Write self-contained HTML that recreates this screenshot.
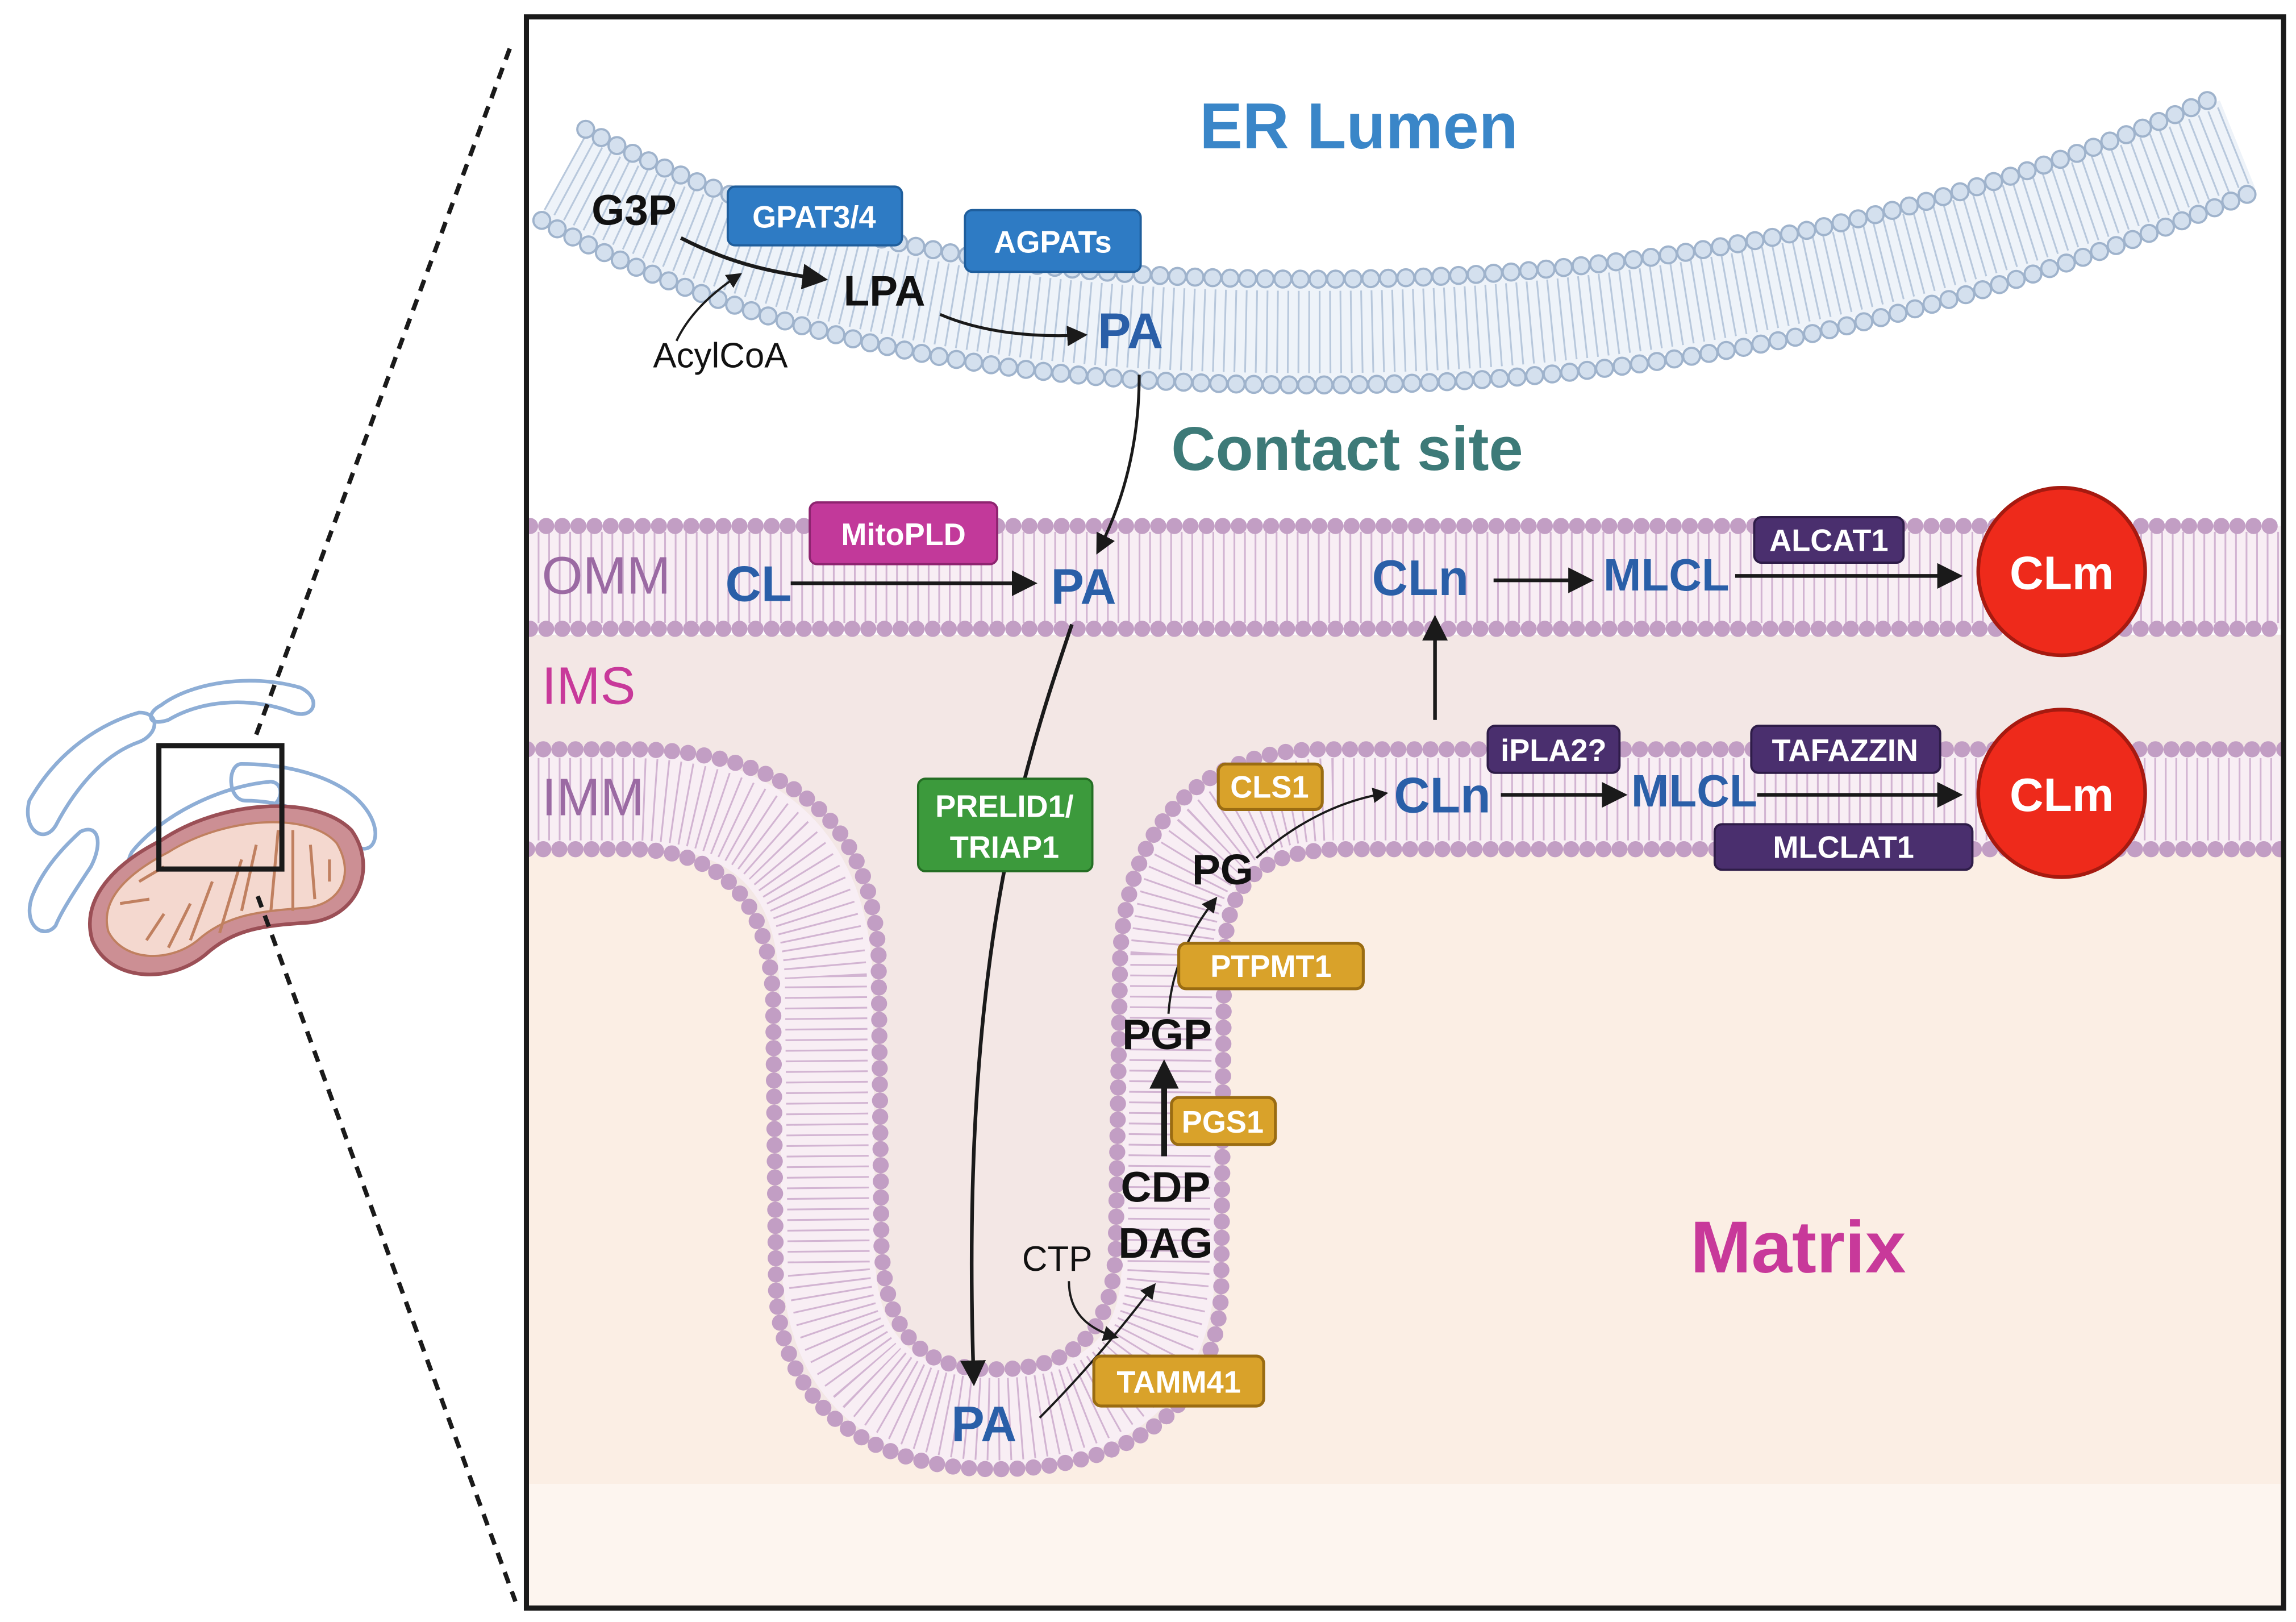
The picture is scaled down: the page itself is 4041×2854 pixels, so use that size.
<!DOCTYPE html>
<html><head><meta charset="utf-8"><style>
html,body{margin:0;padding:0;background:#fff;}
svg{display:block;}
text{font-family:"Liberation Sans",Arial,sans-serif;}
</style></head><body>
<svg width="4041" height="2854" viewBox="0 0 1568 1104" preserveAspectRatio="none" xmlns="http://www.w3.org/2000/svg">
<defs>
<marker id="ah" viewBox="0 0 10 10" refX="8" refY="5" markerWidth="5" markerHeight="5" orient="auto"><path d="M0,0 L10,5 L0,10 Z" fill="#1a1a1a"/></marker>
<marker id="ah2" viewBox="0 0 10 10" refX="8" refY="5" markerWidth="7" markerHeight="7" orient="auto"><path d="M0,0 L10,5 L0,10 Z" fill="#1a1a1a"/></marker>
<clipPath id="box"><rect x="360" y="12" width="1198" height="1081"/></clipPath>
</defs>
<rect width="1568" height="1104" fill="#fff"/>

<!-- left mitochondrion -->
<g fill="none" stroke="#8eaed6" stroke-width="2.5">
<path d="M110,480 C130,465 170,458 205,468 C220,475 215,490 200,485 C175,475 140,475 115,490 C100,495 100,485 110,480 Z"/>
<path d="M20,545 C40,510 70,492 95,485 C110,485 108,500 95,505 C75,512 55,530 38,562 C30,575 15,565 20,545 Z"/>
<path d="M90,580 C110,555 150,535 185,532 C195,533 193,548 182,550 C150,555 125,570 105,595 C95,605 82,595 90,580 Z"/>
<path d="M245,545 C230,530 200,520 165,520 C155,520 155,545 168,545 C200,545 225,560 242,575 C255,585 265,565 245,545 Z"/>
<path d="M22,610 C30,590 45,575 55,566 C68,560 70,575 62,590 C52,605 42,620 38,630 C30,640 15,630 22,610 Z"/>
</g>
<path d="M110,572 C150,545 215,540 240,565 C258,590 245,625 210,628 C180,630 160,632 140,650 C115,670 75,668 63,640 C55,612 78,588 110,572 Z" fill="#cc8f94" stroke="#9b4f56" stroke-width="2.5"/>
<path d="M115,580 C155,555 212,553 230,574 C243,596 232,616 208,618 C180,620 155,622 135,640 C115,656 84,654 74,634 C68,612 88,594 115,580 Z" fill="#f4d8cf" stroke="#c08060" stroke-width="1.5"/>
<g stroke="#c08060" stroke-width="2" fill="none">
<path d="M82,615 L102,612 M95,600 L112,590 M100,640 L112,622 M115,645 L130,615 M130,640 L145,600 M150,635 L165,585 M165,620 L175,575 M185,620 L190,565 M200,620 L200,565 M215,612 L212,575 M225,600 L225,585"/>
</g>
<rect x="108.5" y="507.5" width="84" height="84" fill="none" stroke="#1a1a1a" stroke-width="3.5"/>
<line x1="175" y1="500" x2="350" y2="28" stroke="#1a1a1a" stroke-width="3" stroke-dasharray="8 6"/>
<line x1="176" y1="610" x2="352" y2="1090" stroke="#1a1a1a" stroke-width="3" stroke-dasharray="8 6"/>

<!-- main box -->
<g clip-path="url(#box)">
<rect x="360" y="12" width="1198" height="1081" fill="#fff"/>
<rect x="360" y="432" width="1198" height="590" fill="#f3e7e5"/>
<path d="M360,578 L430,578 C490,578 525,610 528,680 L530,880 C536,970 610,1000 680,1000 C770,1000 830,960 834,880 L836,650 C838,600 860,578 920,578 L1560,578 L1560,1010 L360,1010 Z" fill="#fbeee4"/>
<rect x="360" y="1010" width="1198" height="85" fill="#fdf5ef"/>

<!-- ER membrane -->
<path d="M385,118 C560,215 750,226 900,226 C1150,226 1350,170 1528,98" fill="none" stroke="#eef3f9" stroke-width="64"/>
<path d="M385,118 C560,215 750,226 900,226 C1150,226 1350,170 1528,98" fill="none" stroke="#b8c8dc" stroke-width="56" stroke-dasharray="1.2 6"/>
<path d="M400,88 C570,180 750,190 900,190 C1150,190 1350,140 1515,65" fill="none" stroke="#9fb3cc" stroke-width="13" stroke-linecap="round" stroke-dasharray="0 12"/>
<path d="M400,88 C570,180 750,190 900,190 C1150,190 1350,140 1515,65" fill="none" stroke="#d4e0ee" stroke-width="10" stroke-linecap="round" stroke-dasharray="0 12"/>
<path d="M370,150 C550,250 750,262 900,262 C1150,262 1350,210 1540,130" fill="none" stroke="#9fb3cc" stroke-width="13" stroke-linecap="round" stroke-dasharray="0 12"/>
<path d="M370,150 C550,250 750,262 900,262 C1150,262 1350,210 1540,130" fill="none" stroke="#d4e0ee" stroke-width="10" stroke-linecap="round" stroke-dasharray="0 12"/>

<!-- OMM -->
<rect x="360" y="358" width="1200" height="70" fill="#f8eef4"/>
<line x1="360" y1="393" x2="1560" y2="393" stroke="#d2b4d2" stroke-width="62" stroke-dasharray="1.2 6"/>
<line x1="362" y1="358" x2="1560" y2="358" stroke="#c29ec4" stroke-width="11" stroke-linecap="round" stroke-dasharray="0 11"/>
<line x1="362" y1="428" x2="1560" y2="428" stroke="#c29ec4" stroke-width="11" stroke-linecap="round" stroke-dasharray="0 11"/>

<!-- IMM -->
<path d="M360,544 L430,544 C515,544 560,585 564,665 L566,865 C572,945 625,966 680,966 C750,966 795,935 798,865 L800,650 C804,580 840,545 910,544 L1560,544" fill="none" stroke="#f8eef4" stroke-width="64"/>
<path d="M360,544 L430,544 C515,544 560,585 564,665 L566,865 C572,945 625,966 680,966 C750,966 795,935 798,865 L800,650 C804,580 840,545 910,544 L1560,544" fill="none" stroke="#d2b4d2" stroke-width="56" stroke-dasharray="1.2 6"/>
<path d="M360,510 L430,510 C540,510 595,560 600,650 L602,850 C606,920 640,932 680,932 C730,932 760,910 762,850 L765,650 C770,560 820,512 900,510 L1560,510" fill="none" stroke="#c29ec4" stroke-width="11" stroke-linecap="round" stroke-dasharray="0 11"/>
<path d="M360,578 L430,578 C490,578 525,610 528,680 L530,880 C536,970 610,1000 680,1000 C770,1000 830,960 834,880 L836,650 C838,600 860,578 920,578 L1560,578" fill="none" stroke="#c29ec4" stroke-width="11" stroke-linecap="round" stroke-dasharray="0 11"/>
</g>
<rect x="359.5" y="11.5" width="1200" height="1083" fill="none" stroke="#1a1a1a" stroke-width="3.5"/>

<!-- region labels -->
<text x="928" y="101" font-size="44" font-weight="bold" fill="#3a86c8" text-anchor="middle">ER Lumen</text>
<text x="920" y="320" font-size="42" font-weight="bold" fill="#3d7a78" text-anchor="middle">Contact site</text>
<text x="370" y="404" font-size="36" fill="#9b6aa3">OMM</text>
<text x="370" y="479" font-size="36" fill="#c8399a">IMS</text>
<text x="370" y="555" font-size="36" fill="#9b6aa3">IMM</text>
<text x="1228" y="866" font-size="50" font-weight="bold" fill="#c8399a" text-anchor="middle">Matrix</text>

<!-- arrows -->
<g fill="none" stroke="#1a1a1a" stroke-width="2.5">
<path d="M465,162 C500,180 530,186 562,190" marker-end="url(#ah2)"/>
<path d="M462,232 C470,215 485,200 505,187" stroke-width="1.5" marker-end="url(#ah2)"/>
<path d="M642,214 C670,226 705,230 740,228" stroke-width="2" marker-end="url(#ah2)"/>
<path d="M778,255 C778,300 768,340 750,375" stroke-width="2" marker-end="url(#ah2)"/>
<path d="M540,397 L705,397" marker-end="url(#ah2)"/>
<path d="M732,425 C700,520 655,650 665,940" marker-end="url(#ah2)"/>
<path d="M1020,395 L1085,395" marker-end="url(#ah2)"/>
<path d="M1185,392 L1337,392" marker-end="url(#ah2)"/>
<path d="M980,490 L980,422" marker-end="url(#ah2)"/>
<path d="M1025,541 L1108,541" marker-end="url(#ah2)"/>
<path d="M1200,541 L1337,541" marker-end="url(#ah2)"/>
<path d="M858,584 C885,560 915,545 946,540" stroke-width="1.5" marker-end="url(#ah2)"/>
<path d="M798,690 C800,660 812,635 830,612" stroke-width="1.5" marker-end="url(#ah2)"/>
<path d="M795,787 L795,725" stroke-width="4" marker-end="url(#ah)"/>
<path d="M730,872 C730,895 745,905 762,910" stroke-width="1.5" marker-end="url(#ah2)"/>
<path d="M710,965 C740,935 765,905 788,875" stroke-width="1.5" marker-end="url(#ah2)"/>
</g>

<!-- boxes -->
<g font-weight="bold" font-size="21" text-anchor="middle" fill="#fff">
<rect x="497" y="127" width="119" height="40" rx="5" fill="#2e7bc4" stroke="#1f5e9c" stroke-width="1.5"/><text x="556" y="155">GPAT3/4</text>
<rect x="659" y="143" width="120" height="42" rx="5" fill="#2e7bc4" stroke="#1f5e9c" stroke-width="1.5"/><text x="719" y="172">AGPATs</text>
<rect x="553" y="342" width="128" height="42" rx="5" fill="#c2399a" stroke="#8e2470" stroke-width="1.5"/><text x="617" y="371">MitoPLD</text>
<rect x="1198" y="352" width="102" height="31" rx="5" fill="#4a2f6e" stroke="#2e1c48" stroke-width="1.5"/><text x="1249" y="375">ALCAT1</text>
<rect x="1016" y="494" width="90" height="32" rx="5" fill="#4a2f6e" stroke="#2e1c48" stroke-width="1.5"/><text x="1061" y="518">iPLA2?</text>
<rect x="1196" y="494" width="129" height="32" rx="5" fill="#4a2f6e" stroke="#2e1c48" stroke-width="1.5"/><text x="1260" y="518">TAFAZZIN</text>
<rect x="1171" y="561" width="176" height="31" rx="5" fill="#4a2f6e" stroke="#2e1c48" stroke-width="1.5"/><text x="1259" y="584">MLCLAT1</text>
<rect x="832" y="520" width="71" height="31" rx="5" fill="#d9a22a" stroke="#9a6c12" stroke-width="2"/><text x="867" y="543">CLS1</text>
<rect x="805" y="642" width="126" height="31" rx="5" fill="#d9a22a" stroke="#9a6c12" stroke-width="2"/><text x="868" y="665">PTPMT1</text>
<rect x="800" y="747" width="71" height="32" rx="5" fill="#d9a22a" stroke="#9a6c12" stroke-width="2"/><text x="835" y="771">PGS1</text>
<rect x="747" y="923" width="116" height="34" rx="5" fill="#d9a22a" stroke="#9a6c12" stroke-width="2"/><text x="805" y="948">TAMM41</text>
<rect x="627" y="530" width="119" height="63" rx="5" fill="#3c9a3c" stroke="#246e24" stroke-width="1.5"/><text x="686" y="556">PRELID1/</text><text x="686" y="584">TRIAP1</text>
</g>
<circle cx="1408" cy="389" r="57" fill="#ee2a1b" stroke="#a61a10" stroke-width="2.5"/>
<circle cx="1408" cy="540" r="57" fill="#ee2a1b" stroke="#a61a10" stroke-width="2.5"/>
<text x="1408" y="401" font-size="32" font-weight="bold" fill="#fff" text-anchor="middle">CLm</text>
<text x="1408" y="552" font-size="32" font-weight="bold" fill="#fff" text-anchor="middle">CLm</text>

<!-- metabolite labels -->
<g font-weight="bold" fill="#2a5fa8" text-anchor="middle" font-size="34">
<text x="772" y="237">PA</text>
<text x="740" y="411">PA</text>
<text x="518" y="409">CL</text>
<text x="970" y="405">CLn</text>
<text x="1138" y="402" font-size="31">MLCL</text>
<text x="985" y="553">CLn</text>
<text x="1157" y="549" font-size="31">MLCL</text>
<text x="672" y="981">PA</text>
</g>
<g font-weight="bold" fill="#111" text-anchor="middle" font-size="29">
<text x="433" y="153">G3P</text>
<text x="604" y="208">LPA</text>
<text x="835" y="602">PG</text>
<text x="797" y="714">PGP</text>
<text x="796" y="818">CDP</text>
<text x="796" y="856">DAG</text>
</g>
<text x="492" y="250" font-size="24" fill="#111" text-anchor="middle">AcylCoA</text>
<text x="722" y="865" font-size="24" fill="#111" text-anchor="middle">CTP</text>
</svg>
</body></html>
